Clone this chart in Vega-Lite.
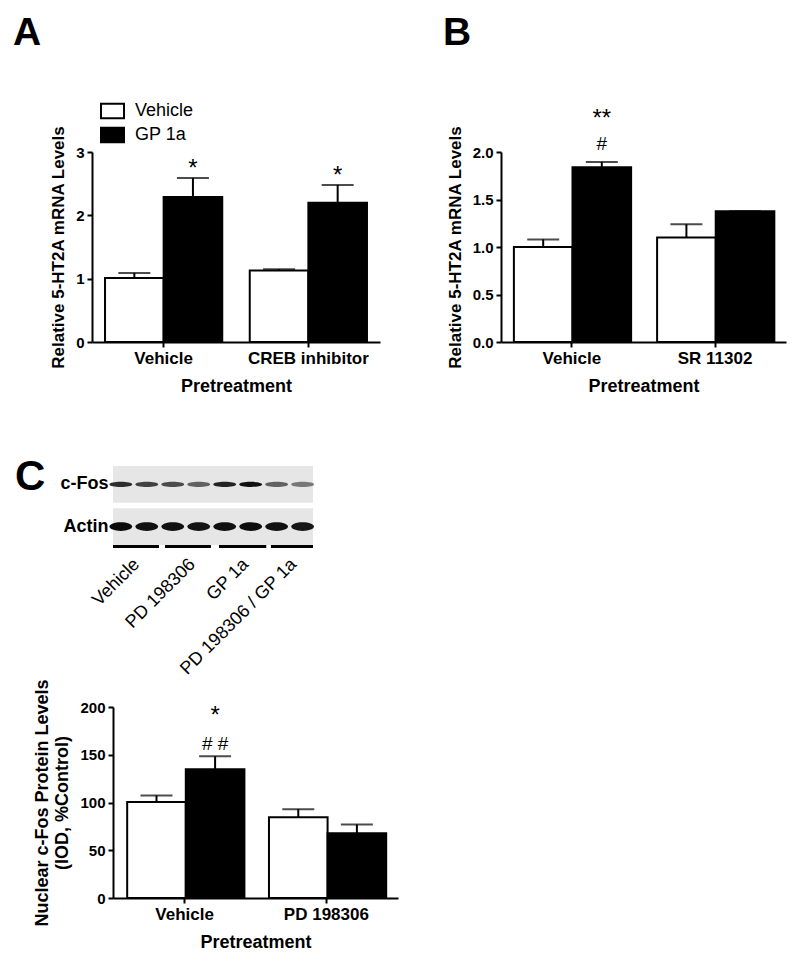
{
  "$schema": "https://vega.github.io/schema/vega-lite/v6.json",
  "background": "white",
  "padding": {"left": 13, "top": 14, "right": 5, "bottom": 5},
  "config": {
    "view": {"stroke": null},
    "font": "Liberation Sans",
    "axis": {"domainColor": "black", "domainWidth": 2, "tickColor": "black", "tickWidth": 2, "tickSize": 5, "labelColor": "black", "labelFont": "Liberation Sans", "labelFontWeight": "bold", "titleColor": "black", "titleFont": "Liberation Sans", "titleFontWeight": "bold", "grid": false},
    "axisX": {"labelAngle": 0, "labelFontSize": 17, "titleFontSize": 18, "labelPadding": 3, "titlePadding": 11},
    "axisY": {"labelFontSize": 15, "titleFontSize": 17, "labelPadding": 3, "titlePadding": 8},
    "legend": {"orient": "none", "title": null, "labelFont": "Liberation Sans", "labelFontSize": 18, "labelColor": "black", "symbolType": "M-1,-0.62L1,-0.62L1,0.62L-1,0.62Z", "symbolSize": 529, "symbolStrokeColor": "black", "symbolStrokeWidth": 2, "labelOffset": 10, "rowPadding": 0, "padding": 0},
    "title": {"font": "Liberation Sans", "fontWeight": "bold", "color": "black", "anchor": "start", "frame": "group", "baseline": "alphabetic"}
  },
  "bounds": "flush",
  "spacing": 314,
  "vconcat": [
    {
      "hconcat": [
        {
          "width": 288, "height": 190,
          "title": {"text": "A", "fontSize": 39, "dx": -79, "offset": 72},
          "data": {"values": [
            {"pre": "Vehicle", "trt": "Vehicle", "mean": 1.01, "err": 1.09, "star": ""},
            {"pre": "Vehicle", "trt": "GP 1a", "mean": 2.29, "err": 2.59, "star": "*"},
            {"pre": "CREB inhibitor", "trt": "Vehicle", "mean": 1.13, "err": 1.15, "star": ""},
            {"pre": "CREB inhibitor", "trt": "GP 1a", "mean": 2.2, "err": 2.48, "star": "*"}
          ]},
          "encoding": {
            "x": {"field": "pre", "type": "nominal", "sort": null, "title": "Pretreatment", "scale": {"paddingInner": 0.19, "paddingOuter": 0.09}},
            "xOffset": {"field": "trt", "type": "nominal", "sort": ["Vehicle", "GP 1a"], "scale": {"paddingInner": 0, "paddingOuter": 0}}
          },
          "layer": [
            {"mark": {"type": "bar", "stroke": "black", "strokeWidth": 2},
             "encoding": {
               "y": {"field": "mean", "type": "quantitative", "title": "Relative 5-HT2A mRNA Levels", "scale": {"domain": [0, 3]}, "axis": {"values": [0, 1, 2, 3], "format": "d"}},
               "fill": {"field": "trt", "type": "nominal", "scale": {"domain": ["Vehicle", "GP 1a"], "range": ["white", "black"]}, "legend": {"legendX": 8, "legendY": -53.5}}
             }},
            {"mark": {"type": "rule", "strokeWidth": 2, "color": "black"},
             "encoding": {"y": {"field": "mean", "type": "quantitative", "title": "Relative 5-HT2A mRNA Levels"}, "y2": {"field": "err"}}},
            {"mark": {"type": "tick", "thickness": 2, "size": 32, "color": "black"},
             "encoding": {"y": {"field": "err", "type": "quantitative", "title": "Relative 5-HT2A mRNA Levels"}}},
            {"mark": {"type": "text", "fontSize": 24, "baseline": "alphabetic", "dy": -2.4, "color": "black"},
             "encoding": {"y": {"field": "err", "type": "quantitative", "title": "Relative 5-HT2A mRNA Levels"}, "text": {"field": "star"}}}
          ]
        },
        {
          "width": 285, "height": 190,
          "title": {"text": "B", "fontSize": 39, "dx": -58, "offset": 53.5},
          "data": {"values": [
            {"pre": "Vehicle", "trt": "Vehicle", "mean": 1.0, "err": 1.08, "star": "", "hash": ""},
            {"pre": "Vehicle", "trt": "GP 1a", "mean": 1.84, "err": 1.895, "star": "**", "hash": "#"},
            {"pre": "SR 11302", "trt": "Vehicle", "mean": 1.1, "err": 1.24, "star": "", "hash": ""},
            {"pre": "SR 11302", "trt": "GP 1a", "mean": 1.377, "err": 1.377, "star": "", "hash": ""}
          ]},
          "encoding": {
            "x": {"field": "pre", "type": "nominal", "sort": null, "title": "Pretreatment", "scale": {"paddingInner": 0.19, "paddingOuter": 0.09}},
            "xOffset": {"field": "trt", "type": "nominal", "sort": ["Vehicle", "GP 1a"], "scale": {"paddingInner": 0, "paddingOuter": 0}}
          },
          "layer": [
            {"mark": {"type": "bar", "stroke": "black", "strokeWidth": 2},
             "encoding": {
               "y": {"field": "mean", "type": "quantitative", "title": "Relative 5-HT2A mRNA Levels", "scale": {"domain": [0, 2]}, "axis": {"values": [0, 0.5, 1, 1.5, 2], "format": ".1f"}},
               "fill": {"field": "trt", "type": "nominal", "scale": {"domain": ["Vehicle", "GP 1a"], "range": ["white", "black"]}, "legend": {"legendX": 162, "legendY": -20.5}}
             }},
            {"mark": {"type": "rule", "strokeWidth": 2, "color": "black"},
             "encoding": {"y": {"field": "mean", "type": "quantitative", "title": "Relative 5-HT2A mRNA Levels"}, "y2": {"field": "err"}}},
            {"mark": {"type": "tick", "thickness": 2, "size": 32, "color": "black"},
             "encoding": {"y": {"field": "err", "type": "quantitative", "title": "Relative 5-HT2A mRNA Levels"}}},
            {"mark": {"type": "text", "fontSize": 24, "baseline": "alphabetic", "dy": -36.4, "color": "black"},
             "encoding": {"y": {"field": "err", "type": "quantitative", "title": "Relative 5-HT2A mRNA Levels"}, "text": {"field": "star"}}},
            {"mark": {"type": "text", "fontSize": 19, "baseline": "alphabetic", "dy": -11.7, "color": "black"},
             "encoding": {"y": {"field": "err", "type": "quantitative", "title": "Relative 5-HT2A mRNA Levels"}, "text": {"field": "hash"}}}
          ]
        }
      ],
      "spacing": 121,
      "bounds": "flush"
    },
    {
      "hconcat": [
        {"width": 1, "height": 1, "data": {"values": [{"a": 0}]}, "mark": {"type": "point", "opacity": 0}, "encoding": {}},
        {
          "vconcat": [
            {
              "width": 200, "height": 79,
              "title": {"text": "C", "fontSize": 42, "dx": -98, "offset": -33},
              "layer": [
                {"data": {"values": [{"blot": "c-Fos"}, {"blot": "Actin"}]},
                 "mark": {"type": "rect", "color": "#e6e6e6"},
                 "encoding": {
                   "x": {"datum": 0.7, "type": "quantitative", "scale": {"domain": [0.7, 8.4], "nice": false, "zero": false},
                         "axis": {"values": [1.35, 3.5, 5.55, 7.4], "domain": false, "ticks": false, "labelAngle": -45, "labelFontSize": 18, "labelFontWeight": "normal", "labelPadding": 10, "labelOverlap": false, "labelBound": false, "labelFlush": false,
                                  "labelExpr": "datum.value < 2.5 ? 'Vehicle' : datum.value < 4.5 ? 'PD 198306' : datum.value < 6.5 ? 'GP 1a' : 'PD 198306 / GP 1a'"},
                         "title": null},
                   "x2": {"datum": 8.4},
                   "y": {"field": "blot", "type": "nominal", "sort": ["c-Fos", "Actin"], "title": null, "scale": {"paddingInner": 0.13, "paddingOuter": 0},
                         "axis": {"domain": false, "ticks": false, "labelFontSize": 18, "labelPadding": 5}}
                 }},
                {"data": {"values": [
                  {"blot": "c-Fos", "lane": 1, "dark": 0.8}, {"blot": "c-Fos", "lane": 2, "dark": 0.7},
                  {"blot": "c-Fos", "lane": 3, "dark": 0.65}, {"blot": "c-Fos", "lane": 4, "dark": 0.55},
                  {"blot": "c-Fos", "lane": 5, "dark": 0.85}, {"blot": "c-Fos", "lane": 6, "dark": 0.95},
                  {"blot": "c-Fos", "lane": 7, "dark": 0.55}, {"blot": "c-Fos", "lane": 8, "dark": 0.45},
                  {"blot": "Actin", "lane": 1, "dark": 0.97}, {"blot": "Actin", "lane": 2, "dark": 0.95},
                  {"blot": "Actin", "lane": 3, "dark": 0.95}, {"blot": "Actin", "lane": 4, "dark": 0.93},
                  {"blot": "Actin", "lane": 5, "dark": 0.95}, {"blot": "Actin", "lane": 6, "dark": 0.96},
                  {"blot": "Actin", "lane": 7, "dark": 0.95}, {"blot": "Actin", "lane": 8, "dark": 0.92}
                 ]},
                 "mark": {"type": "point", "filled": true, "size": 520, "opacity": 1},
                 "encoding": {
                   "x": {"field": "lane", "type": "quantitative", "title": null},
                   "y": {"field": "blot", "type": "nominal", "sort": ["c-Fos", "Actin"], "title": null},
                   "shape": {"field": "blot", "type": "nominal", "legend": null, "scale": {"domain": ["c-Fos", "Actin"], "range": ["M-1,0A1,0.22,0,1,0,1,0A1,0.22,0,1,0,-1,0Z", "M-1,0A1,0.38,0,1,0,1,0A1,0.38,0,1,0,-1,0Z"]}},
                   "color": {"field": "dark", "type": "quantitative", "legend": null, "scale": {"domain": [0, 1], "range": ["#e6e6e6", "#000000"]}}
                 }},
                {"data": {"values": [
                  {"group": "Vehicle", "start": 0.7, "end": 2.47},
                  {"group": "PD 198306", "start": 2.7, "end": 4.47},
                  {"group": "GP 1a", "start": 4.78, "end": 6.6},
                  {"group": "PD 198306 / GP 1a", "start": 6.78, "end": 8.4}
                 ]},
                 "mark": {"type": "rule", "strokeWidth": 3, "color": "black", "yOffset": 1.5},
                 "encoding": {
                   "x": {"field": "start", "type": "quantitative", "title": null},
                   "x2": {"field": "end"},
                   "y": {"value": "height"}
                 }}
              ]
            },
            {
              "width": 285, "height": 191,
              "data": {"values": [
                {"pre": "Vehicle", "trt": "Vehicle", "mean": 100.4, "err": 107.4, "star": "", "hash": ""},
                {"pre": "Vehicle", "trt": "GP 1a", "mean": 134.7, "err": 148.3, "star": "*", "hash": "# #"},
                {"pre": "PD 198306", "trt": "Vehicle", "mean": 84.6, "err": 93, "star": "", "hash": ""},
                {"pre": "PD 198306", "trt": "GP 1a", "mean": 67.8, "err": 77, "star": "", "hash": ""}
              ]},
              "encoding": {
                "x": {"field": "pre", "type": "nominal", "sort": null, "title": "Pretreatment", "scale": {"paddingInner": 0.19, "paddingOuter": 0.1}},
                "xOffset": {"field": "trt", "type": "nominal", "sort": ["Vehicle", "GP 1a"], "scale": {"paddingInner": 0, "paddingOuter": 0}}
              },
              "layer": [
                {"mark": {"type": "bar", "stroke": "black", "strokeWidth": 2},
                 "encoding": {
                   "y": {"field": "mean", "type": "quantitative", "title": ["Nuclear c-Fos Protein  Levels", "(IOD, %Control)"], "scale": {"domain": [0, 200]}, "axis": {"values": [0, 50, 100, 150, 200], "format": "d", "titleFontSize": 18, "titleLineHeight": 20}},
                   "fill": {"field": "trt", "type": "nominal", "scale": {"domain": ["Vehicle", "GP 1a"], "range": ["white", "black"]}, "legend": {"legendX": 185, "legendY": 30}}
                 }},
                {"mark": {"type": "rule", "strokeWidth": 2, "color": "black"},
                 "encoding": {"y": {"field": "mean", "type": "quantitative", "title": ["Nuclear c-Fos Protein  Levels", "(IOD, %Control)"]}, "y2": {"field": "err"}}},
                {"mark": {"type": "tick", "thickness": 2, "size": 32, "color": "black"},
                 "encoding": {"y": {"field": "err", "type": "quantitative", "title": ["Nuclear c-Fos Protein  Levels", "(IOD, %Control)"]}}},
                {"mark": {"type": "text", "fontSize": 24, "baseline": "alphabetic", "dy": -33, "color": "black"},
                 "encoding": {"y": {"field": "err", "type": "quantitative", "title": ["Nuclear c-Fos Protein  Levels", "(IOD, %Control)"]}, "text": {"field": "star"}}},
                {"mark": {"type": "text", "fontSize": 19, "baseline": "alphabetic", "dy": -6.3, "color": "black"},
                 "encoding": {"y": {"field": "err", "type": "quantitative", "title": ["Nuclear c-Fos Protein  Levels", "(IOD, %Control)"]}, "text": {"field": "hash"}}}
              ]
            }
          ],
          "spacing": 162,
          "bounds": "flush"
        }
      ],
      "spacing": 20,
      "bounds": "flush"
    }
  ]
}
